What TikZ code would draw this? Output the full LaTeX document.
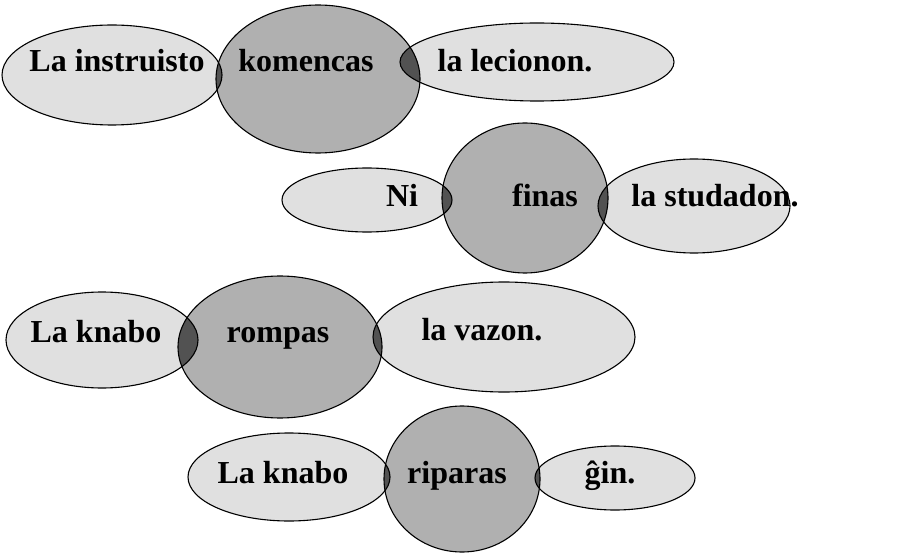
\documentclass[tikz,border=0pt]{standalone}
\usepackage{fontspec}
\setmainfont{Liberation Serif}

\begin{document}
\begin{tikzpicture}[x=1pt, y=-1pt,
    light/.style={fill=gray!24},
    dark/.style={fill=gray!62},
    lens/.style={fill=black!68},
    rim/.style={draw=black, line width=1.1pt},
    word/.style={font=\fontsize{32}{36}\selectfont\bfseries, inner sep=0pt, anchor=base}]
  \useasboundingbox (0,0) rectangle (904,553);

  % ovals: x/y/x radius/y radius/shade
  \foreach \cx/\cy/\rx/\ry/\tone in {
      112/75/110/50/light, 318/79/102/74/dark, 537/62/137/39/light,
      367/200/85/32/light, 525/198/83/75/dark, 694/206/96/47/light,
      102/340/96/48/light, 280/347/102/71/dark, 504/337/131/55/light,
      289/477/101/44/light, 462/479/78/73/dark, 615/478/80/32/light}
    \fill[\tone] (\cx,\cy) ellipse [x radius=\rx pt, y radius=\ry pt];

  % dark lenses where two ovals overlap
  \foreach \ax/\ay/\arx/\ary/\bx/\by/\brx/\bry in {
      112/75/110/50/318/79/102/74, 537/62/137/39/318/79/102/74,
      367/200/85/32/525/198/83/75, 694/206/96/47/525/198/83/75,
      102/340/96/48/280/347/102/71, 504/337/131/55/280/347/102/71,
      289/477/101/44/462/479/78/73, 615/478/80/32/462/479/78/73}
  {
    \begin{scope}
      \clip (\ax,\ay) ellipse [x radius=\arx pt, y radius=\ary pt];
      \fill[lens] (\bx,\by) ellipse [x radius=\brx pt, y radius=\bry pt];
    \end{scope}
  }

  \foreach \cx/\cy/\rx/\ry in {
      112/75/110/50, 318/79/102/74, 537/62/137/39,
      367/200/85/32, 525/198/83/75, 694/206/96/47,
      102/340/96/48, 280/347/102/71, 504/337/131/55,
      289/477/101/44, 462/479/78/73, 615/478/80/32}
    \draw[rim] (\cx,\cy) ellipse [x radius=\rx pt, y radius=\ry pt];

  % words
  \node[word] (subjA) at (117,72) {La instruisto};
  \node[word] (verbA) at (306,72) {komencas};
  \node[word] (objA)  at (515,72) {la lecionon.};

  \node[word] (subjB) at (402,207) {Ni};
  \node[word] (verbB) at (545,207) {finas};
  \node[word] (objB)  at (715,207) {la studadon.};

  \node[word] (subjC) at (96,342)  {La knabo};
  \node[word] (verbC) at (278,342) {rompas};
  \node[word] (objC)  at (482,340) {la vazon.};

  \node[word] (subjD) at (283,483) {La knabo};
  \node[word] (verbD) at (457,483) {riparas};
  \node[word] (objD)  at (610,483) {ĝin.};
\end{tikzpicture}
\end{document}
